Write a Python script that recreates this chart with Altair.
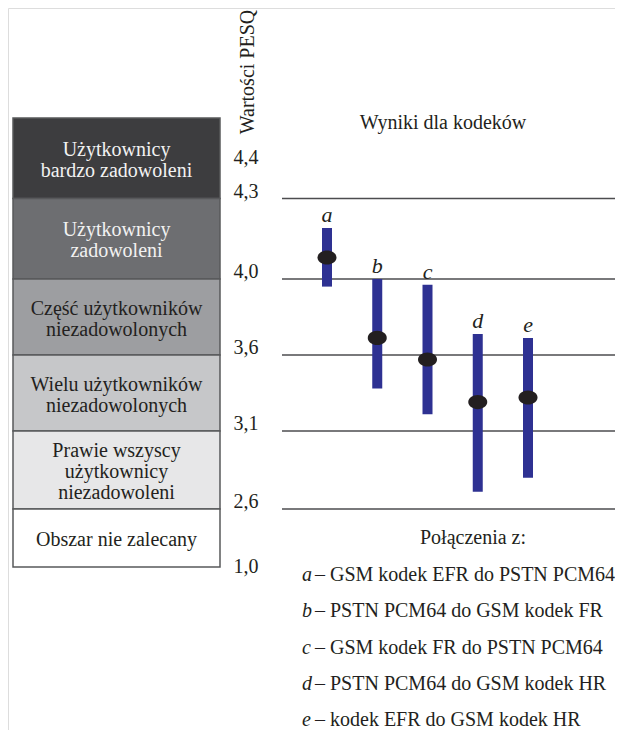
import altair as alt
import pandas as pd

# ---- data ----
codecs = ["a", "b", "c", "d", "e"]
pesq_low = [3.96, 3.38, 3.21, 2.71, 2.80]
pesq_high = [4.19, 4.00, 3.97, 3.71, 3.69]
pesq_mean = [4.08, 3.69, 3.57, 3.29, 3.32]
descriptions = [
    "– GSM kodek EFR do PSTN PCM64",
    "– PSTN PCM64 do GSM kodek FR",
    "– GSM kodek FR do PSTN PCM64",
    "– PSTN PCM64 do GSM kodek HR",
    "– kodek EFR do GSM kodek HR",
]
zone_labels = [
    "Użytkownicy\nbardzo zadowoleni",
    "Użytkownicy\nzadowoleni",
    "Część użytkowników\nniezadowolonych",
    "Wielu użytkowników\nniezadowolonych",
    "Prawie wszyscy\nużytkownicy\nniezadowoleni",
    "Obszar nie zalecany",
]
zone_high = [4.5, 4.3, 4.0, 3.6, 3.1, 2.6]
zone_low = [4.3, 4.0, 3.6, 3.1, 2.6, 1.0]
zone_fill = ["#3d3d3f", "#6d6e71", "#9d9ea1", "#c6c7c9", "#e7e7e8", "#ffffff"]
zone_text = ["#f2f2f2", "#f2f2f2", "#231f20", "#231f20", "#231f20", "#231f20"]
threshold_lines = [4.3, 4.0, 3.6, 3.1, 2.6]
line_labels = ["4,3", "4,0", "3,6", "3,1", "2,6"]
extra_ticks = [4.4, 1.0]
extra_labels = ["4,4", "1,0"]

codec_df = pd.DataFrame({"codec": codecs, "low": pesq_low, "high": pesq_high,
                         "mean": pesq_mean, "desc": descriptions})
zone_df = pd.DataFrame({"label": zone_labels, "hi": zone_high, "lo": zone_low,
                        "fill": zone_fill, "tcol": zone_text})
zone_df["mid"] = (zone_df["hi"] + zone_df["lo"]) / 2
zone_df["nlines"] = zone_df["label"].str.count("\n") + 1
line_df = pd.DataFrame({"v": threshold_lines, "lab": line_labels})
extra_df = pd.DataFrame({"v": extra_ticks, "lab": extra_labels})

FONT = "Liberation Serif"
W, H = 607, 722
LH = 21

yscale = alt.Scale(domain=[1.0, 2.6, 3.1, 3.6, 4.0, 4.3, 4.5],
                   range=[559, 501, 423, 347, 271, 190.5, 110])
xscale = alt.Scale(domain=codecs, range=[319, 520], type="point", padding=0)
Y = lambda f: alt.Y(f, type="quantitative", scale=yscale, axis=None)

zones = alt.Chart(zone_df).mark_rect(stroke="#58595b", strokeWidth=1.5).encode(
    x=alt.value(5), x2=alt.value(212),
    y=Y("hi"), y2=alt.Y2("lo"),
    fill=alt.Fill("fill:N", scale=None),
)

def zone_text_layer(n):
    return alt.Chart(zone_df).transform_filter(alt.datum.nlines == n).mark_text(
        font=FONT, fontSize=20, lineBreak="\n", lineHeight=LH,
        align="center", baseline="middle", dy=2 - (n - 1) * LH / 2,
    ).encode(
        x=alt.value(108.5), y=Y("mid"), text="label:N",
        color=alt.Color("tcol:N", scale=None),
    )

zone_txt = alt.layer(*[zone_text_layer(n) for n in (1, 2, 3)])

hlines = alt.Chart(line_df).mark_rule(color="#4d4d4f", strokeWidth=1.5).encode(
    x=alt.value(274), x2=alt.value(612), y=Y("v"),
)
line_txt = alt.Chart(line_df).mark_text(
    font=FONT, fontSize=20, align="center", baseline="alphabetic", dy=-1,
    color="#231f20",
).encode(x=alt.value(238), y=Y("v"), text="lab:N")
extra_txt = alt.Chart(extra_df).mark_text(
    font=FONT, fontSize=20, align="center", baseline="middle", color="#231f20",
).encode(x=alt.value(238), y=Y("v"), text="lab:N")

bars = alt.Chart(codec_df).mark_rule(color="#2e3192", strokeWidth=10, strokeCap="butt").encode(
    x=alt.X("codec:N", scale=xscale, axis=None), y=Y("low"), y2=alt.Y2("high"),
)
ellipse = "M -1 0 A 1 0.74 0 1 0 1 0 A 1 0.74 0 1 0 -1 0 Z"
dots = alt.Chart(codec_df).mark_point(
    shape=ellipse, filled=True, fill="#231f20", opacity=1, size=361, strokeWidth=0,
).encode(x=alt.X("codec:N", scale=xscale, axis=None), y=Y("mean"))
letters = alt.Chart(codec_df).mark_text(
    font=FONT, fontSize=22, fontStyle="italic", align="center",
    baseline="alphabetic", dy=-6, color="#231f20",
).encode(x=alt.X("codec:N", scale=xscale, axis=None), y=Y("high"), text="codec:N")

legend_y = alt.Scale(domain=codecs, range=[567, 712], type="point", padding=0)
leg_letter = alt.Chart(codec_df).mark_text(
    font=FONT, fontSize=20, fontStyle="italic", align="left", baseline="middle",
    color="#231f20",
).encode(x=alt.value(294), y=alt.Y("codec:N", scale=legend_y, axis=None), text="codec:N")
leg_desc = alt.Chart(codec_df).mark_text(
    font=FONT, fontSize=20, align="left", baseline="middle", color="#231f20",
).encode(x=alt.value(307), y=alt.Y("codec:N", scale=legend_y, axis=None), text="desc:N")

def label(txt, x, y, angle=0):
    return alt.Chart(pd.DataFrame({"t": [txt]})).mark_text(
        font=FONT, fontSize=20, align="center", baseline="middle", angle=angle,
        color="#231f20",
    ).encode(x=alt.value(x), y=alt.value(y), text="t:N")

title = label("Wyniki dla kodeków", 435, 115)
ytitle = label("Wartości PESQ", 240, 64, angle=270)
conn = label("Połączenia z:", 465, 530)

main = alt.layer(zones, zone_txt, hlines, line_txt, extra_txt, bars, dots, letters,
                 title, ytitle, conn)
legend = alt.layer(leg_letter, leg_desc)

chart = alt.layer(main, legend).resolve_scale(y="independent").properties(
    width=W, height=H, autosize="none", padding=0,
).configure_view(stroke=None, strokeWidth=0).configure(background="white")

chart.save("out.html", embed_options={"renderer": "svg", "actions": False})
